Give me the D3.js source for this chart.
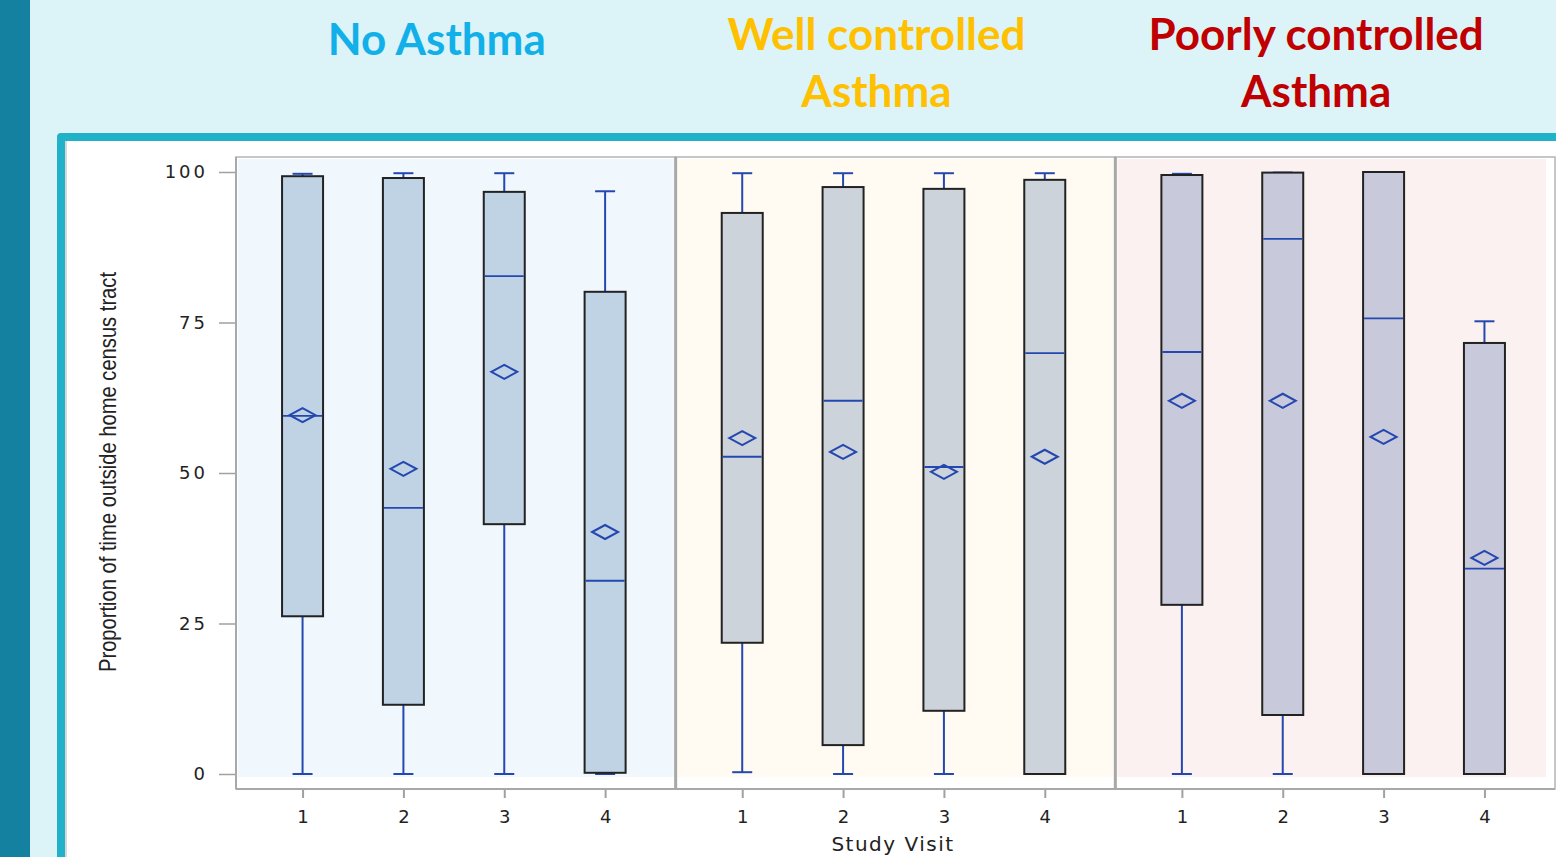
<!DOCTYPE html>
<html>
<head>
<meta charset="utf-8">
<script src="https://cdn.jsdelivr.net/npm/d3@7"></script>
<style>
  html, body { margin: 0; padding: 0; background: #dcf3f8; overflow: hidden; }
  svg { display: block; }
</style>
</head>
<body>
<svg id="chart" width="1556" height="857"></svg>
<script>
// Asthma control groups and study visits
const groups = ["No Asthma", "Well controlled Asthma", "Poorly controlled Asthma"];
const groupTitleLines = [["No Asthma"], ["Well controlled", "Asthma"], ["Poorly controlled", "Asthma"]];
const visits = ["1", "2", "3", "4"];
const yTicks = [0, 25, 50, 75, 100];

// Box-plot statistics per group, one value per visit (percent of time outside home census tract)
const whiskerHigh = [
  [99.7, 99.8, 99.8, 96.8],
  [99.8, 99.8, 99.8, 99.8],
  [99.7, 99.9, 100, 75.2]
];
const q3 = [
  [99.3, 99.0, 96.7, 80.1],
  [93.2, 97.5, 97.2, 98.7],
  [99.5, 99.9, 100, 71.6]
];
const medians = [
  [59.5, 44.2, 82.7, 32.1],
  [52.7, 62.0, 51.0, 69.9],
  [70.1, 88.9, 75.7, 34.1]
];
const means = [
  [59.6, 50.7, 66.8, 40.2],
  [55.8, 53.5, 50.2, 52.7],
  [62.0, 62.0, 56.0, 35.9]
];
const q1 = [
  [26.2, 11.5, 41.5, 0.2],
  [21.8, 4.8, 10.5, 0],
  [28.1, 9.8, 0, 0]
];
const whiskerLow = [
  [0, 0, 0, 0],
  [0.3, 0, 0, 0],
  [0, 0, 0, 0]
];

// Styling per group
const titleColors = ["#12b0e8", "#ffc000", "#c00000"];
const panelFills = ["#f0f8fd", "#fffbf2", "#fcf1f1"];
const boxFills = ["#c0d3e5", "#cdd3da", "#c8cadb"];
const markBlue = "#2448b0";

const svg = d3.select("#chart");
const W = 1556, H = 857;

// Slide decoration: dark left strip, light background, teal framed content area
svg.append("rect").attr("x", 0).attr("y", 0).attr("width", W).attr("height", H).attr("fill", "#dcf3f8");
svg.append("rect").attr("x", 0).attr("y", 0).attr("width", 30).attr("height", H).attr("fill", "#1581a1");
svg.append("rect").attr("x", 57).attr("y", 133).attr("width", W + 20).attr("height", H).attr("rx", 4)
  .attr("fill", "#21b2c9");
svg.append("rect").attr("x", 65).attr("y", 141).attr("width", W).attr("height", H).attr("fill", "#ffffff");
svg.append("line").attr("x1", 66).attr("x2", 66).attr("y1", 141).attr("y2", H)
  .attr("stroke", "#d8d8d8").attr("stroke-width", 2);

// Scales
const plotLeft = 236, plotRight = 1555, plotTop = 157, plotBottom = 789;
const y = d3.scaleLinear().domain([0, 100]).range([774, 172]);
const gx = d3.scaleBand().domain(groups).range([plotLeft, plotRight]).padding(0);
const vx = d3.scalePoint().domain(visits).range([0, gx.bandwidth() - 4]).padding(0.66);
const boxW = 41, capW = 20, diaW = 13, diaH = 7;

// Group titles above the panels
groups.forEach((g, i) => {
  const cx = gx(g) + gx.bandwidth() / 2 - 19;
  const lines = groupTitleLines[i];
  const t = svg.append("text")
    .attr("x", cx)
    .attr("text-anchor", "middle")
    .attr("font-family", "Lato, 'Open Sans', sans-serif")
    .attr("font-weight", 700)
    .attr("font-size", 44)
    .attr("fill", titleColors[i]);
  lines.forEach((ln, k) => {
    t.append("tspan").attr("x", cx).attr("y", (lines.length === 1 ? 55 : 50) + k * 57).text(ln);
  });
});

// Panels
groups.forEach((g, i) => {
  const x0 = gx(g);
  const pg = svg.append("g").attr("transform", `translate(${x0},0)`);
  pg.append("rect")
    .attr("x", 2).attr("y", plotTop + 2)
    .attr("width", gx.bandwidth() - (i === 2 ? 11 : 4))
    .attr("height", 777 - plotTop - 2)
    .attr("fill", panelFills[i]);
  pg.append("rect")
    .attr("x", 0).attr("y", plotTop)
    .attr("width", gx.bandwidth()).attr("height", plotBottom - plotTop)
    .attr("fill", "none").attr("stroke", "#b4b4b4").attr("stroke-width", 1.5);

  visits.forEach((v, j) => {
    const cx = vx(v);
    const b = pg.append("g");
    // whiskers
    b.append("line").attr("x1", cx).attr("x2", cx)
      .attr("y1", y(whiskerHigh[i][j])).attr("y2", y(q3[i][j]))
      .attr("stroke", markBlue).attr("stroke-width", 2);
    b.append("line").attr("x1", cx).attr("x2", cx)
      .attr("y1", y(q1[i][j])).attr("y2", y(whiskerLow[i][j]))
      .attr("stroke", markBlue).attr("stroke-width", 2);
    [whiskerHigh[i][j], whiskerLow[i][j]].forEach(val => {
      b.append("line").attr("x1", cx - capW / 2).attr("x2", cx + capW / 2)
        .attr("y1", y(val)).attr("y2", y(val))
        .attr("stroke", markBlue).attr("stroke-width", 2);
    });
    // box
    b.append("rect")
      .attr("x", cx - boxW / 2).attr("y", y(q3[i][j]))
      .attr("width", boxW).attr("height", y(q1[i][j]) - y(q3[i][j]))
      .attr("fill", boxFills[i]).attr("stroke", "#222222").attr("stroke-width", 2);
    // median
    b.append("line").attr("x1", cx - boxW / 2 + 1).attr("x2", cx + boxW / 2 - 1)
      .attr("y1", y(medians[i][j])).attr("y2", y(medians[i][j]))
      .attr("stroke", markBlue).attr("stroke-width", 1.8);
    // mean diamond
    const my = y(means[i][j]);
    b.append("path")
      .attr("d", `M${cx - diaW},${my} L${cx},${my - diaH} L${cx + diaW},${my} L${cx},${my + diaH} Z`)
      .attr("fill", "none").attr("stroke", markBlue).attr("stroke-width", 2);
  });

  // x axis per panel
  const xa = pg.append("g").attr("transform", `translate(0,${plotBottom})`)
    .call(d3.axisBottom(vx).tickSize(9).tickPadding(12));
  xa.select(".domain").remove();
  xa.selectAll(".tick line").attr("stroke", "#a0a0a0").attr("stroke-width", 2);
  xa.selectAll(".tick text")
    .attr("font-family", "'DejaVu Sans', sans-serif").attr("font-size", 18).attr("fill", "#222");
});

// Thick panel dividers
groups.slice(1).forEach(g => {
  svg.append("line").attr("x1", gx(g)).attr("x2", gx(g)).attr("y1", plotTop).attr("y2", plotBottom)
    .attr("stroke", "#a8a8a8").attr("stroke-width", 3);
});

// x axis baseline
svg.append("line").attr("x1", plotLeft).attr("x2", plotRight).attr("y1", plotBottom).attr("y2", plotBottom)
  .attr("stroke", "#a8a8a8").attr("stroke-width", 2);

// y axis
const ya = svg.append("g").attr("transform", `translate(${plotLeft},0)`)
  .call(d3.axisLeft(y).tickValues(yTicks).tickSize(17).tickPadding(11));
ya.select(".domain").remove();
ya.selectAll(".tick line").attr("stroke", "#a0a0a0").attr("stroke-width", 1.5);
ya.selectAll(".tick text")
  .attr("font-family", "'DejaVu Sans', sans-serif").attr("font-size", 18)
  .attr("letter-spacing", 3).attr("fill", "#222");
svg.append("line").attr("x1", plotLeft).attr("x2", plotLeft).attr("y1", plotTop).attr("y2", plotBottom)
  .attr("stroke", "#a8a8a8").attr("stroke-width", 2);

// Axis titles
svg.append("text")
  .attr("transform", "translate(116,472) rotate(-90)")
  .attr("text-anchor", "middle")
  .attr("font-family", "'Liberation Sans Narrow', 'Liberation Sans', sans-serif")
  .attr("font-size", 24)
  .attr("textLength", 400).attr("lengthAdjust", "spacingAndGlyphs")
  .attr("fill", "#222")
  .text("Proportion of time outside home census tract");

svg.append("text")
  .attr("x", 893).attr("y", 851)
  .attr("text-anchor", "middle")
  .attr("font-family", "'DejaVu Sans', sans-serif")
  .attr("font-size", 20)
  .attr("letter-spacing", 1.5)
  .attr("fill", "#222")
  .text("Study Visit");
</script>
</body>
</html>
